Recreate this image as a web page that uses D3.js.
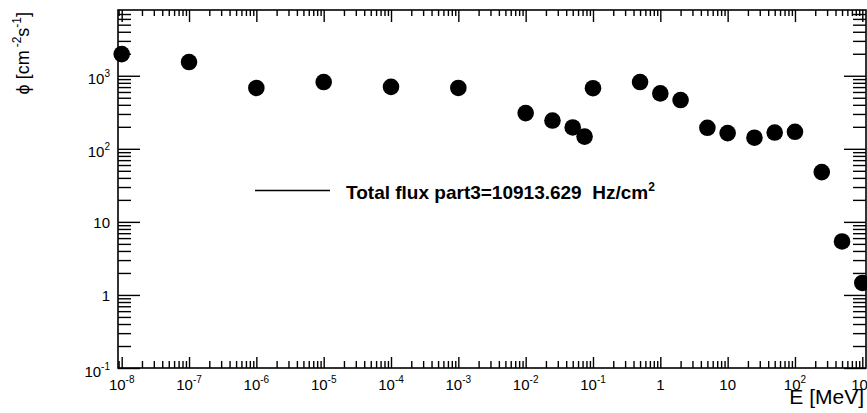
<!DOCTYPE html>
<html>
<head>
<meta charset="utf-8">
<script src="https://cdn.jsdelivr.net/npm/d3@7"></script>
<style>
  html, body { margin: 0; padding: 0; background: #fff; overflow: hidden; }
  svg { display: block; }
  text { font-family: "Liberation Sans", Arial, Helvetica, sans-serif; fill: #000; }
</style>
</head>
<body>
<svg id="chart" width="867" height="413"></svg>
<script>
// Neutron flux spectrum, part 3
const energies = [1e-8, 1e-7, 1e-6, 1e-5, 1e-4, 1e-3, 1e-2, 0.025, 0.05, 0.075, 0.1,
                  0.5, 1, 2, 5, 10, 25, 50, 100, 250, 500, 1000];
const flux = [1980, 1540, 680, 820, 705, 680, 308, 244, 196, 147, 675,
              820, 573, 465, 194, 164, 142, 167, 171, 48, 5.4, 1.46];
const xTickExponents = [-8, -7, -6, -5, -4, -3, -2, -1, 0, 1, 2, 3];
const yTickExponents = [-1, 0, 1, 2, 3];
const xTitle = "E [MeV]";
const legendLabel = "Total flux part3=10913.629  Hz/cm";
const legendUnitPower = "2";

const svg = d3.select("#chart");
const frame = { left: 118, right: 866, top: 10, bottom: 368 };

const x = d3.scaleLog()
  .domain([Math.pow(10, -8.055), Math.pow(10, 3.055)])
  .range([frame.left, frame.right]);
const y = d3.scaleLog()
  .domain([0.1, Math.pow(10, 3.9)])
  .range([frame.bottom, frame.top]);

// major (decade) and minor (2..9) tick values inside a log domain
function logTicks(scale) {
  const [lo, hi] = scale.domain();
  const major = [], minor = [];
  for (let e = Math.floor(Math.log10(lo)) - 1; e <= Math.ceil(Math.log10(hi)); e++) {
    for (let k = 1; k <= 9; k++) {
      const v = k * Math.pow(10, e);
      if (v < lo * 0.9999 || v > hi * 1.0001) continue;
      (k === 1 ? major : minor).push(v);
    }
  }
  return { major, minor };
}

const xt = logTicks(x), yt = logTicks(y);

function drawAxis(axisFn, scale, values, size, transform) {
  const g = svg.append("g")
    .attr("transform", transform)
    .call(axisFn(scale).tickValues(values).tickSize(size).tickSizeOuter(0).tickFormat(""));
  g.select(".domain").remove();
  g.selectAll(".tick line").attr("stroke", "#000").attr("stroke-width", 1.4);
}

// bottom and top axes, ticks pointing into the frame
drawAxis(d3.axisTop, x, xt.major, 11, `translate(0,${frame.bottom})`);
drawAxis(d3.axisTop, x, xt.minor, 7, `translate(0,${frame.bottom})`);
drawAxis(d3.axisBottom, x, xt.major, 12, `translate(0,${frame.top})`);
drawAxis(d3.axisBottom, x, xt.minor, 6, `translate(0,${frame.top})`);
// left and right axes
drawAxis(d3.axisRight, y, yt.major, 22, `translate(${frame.left},0)`);
drawAxis(d3.axisRight, y, yt.minor, 13, `translate(${frame.left},0)`);
drawAxis(d3.axisLeft, y, yt.major, 22, `translate(${frame.right},0)`);
drawAxis(d3.axisLeft, y, yt.minor, 13, `translate(${frame.right},0)`);

// frame
svg.append("rect")
  .attr("x", frame.left).attr("y", frame.top)
  .attr("width", frame.right - frame.left).attr("height", frame.bottom - frame.top)
  .attr("fill", "none").attr("stroke", "#000").attr("stroke-width", 1.6);

// power-of-ten label: "1", "10" or "10" with superscript exponent
function powerLabel(sel, e) {
  if (e === 0) { sel.text("1"); return; }
  if (e === 1) { sel.text("10"); return; }
  sel.append("tspan").text("10");
  sel.append("tspan").attr("dy", -7).attr("font-size", 10).text(String(e));
}

// x tick labels
xTickExponents.forEach(e => {
  const t = svg.append("text")
    .attr("x", x(Math.pow(10, e)))
    .attr("y", 389.5)
    .attr("text-anchor", "middle")
    .attr("font-size", 15);
  powerLabel(t, e);
});

// y tick labels
yTickExponents.forEach(e => {
  const hasSup = e !== 0 && e !== 1;
  const t = svg.append("text")
    .attr("x", 110)
    .attr("y", y(Math.pow(10, e)) + (hasSup ? 8.5 : 6))
    .attr("text-anchor", "end")
    .attr("font-size", 15);
  powerLabel(t, e);
});

// axis titles
svg.append("text")
  .attr("x", 864).attr("y", 404)
  .attr("text-anchor", "end")
  .attr("font-size", 21)
  .text(xTitle);

const yTitle = svg.append("text")
  .attr("transform", "translate(29,12) rotate(-90)")
  .attr("text-anchor", "end")
  .attr("font-size", 18);
yTitle.append("tspan").text("\u03D5 [cm");
yTitle.append("tspan").attr("dy", -8).attr("font-size", 12).attr("dx", 3).text("-2");
yTitle.append("tspan").attr("dy", 8).text("s");
yTitle.append("tspan").attr("dy", -8).attr("font-size", 12).text("-1");
yTitle.append("tspan").attr("dy", 8).text("]");

// data points
svg.append("g")
  .selectAll("circle")
  .data(energies.map((e, i) => ({ e, f: flux[i] })))
  .join("circle")
  .attr("cx", d => x(d.e))
  .attr("cy", d => y(d.f))
  .attr("r", 8.3)
  .attr("fill", "#000");

// legend
svg.append("line")
  .attr("x1", 255).attr("x2", 330)
  .attr("y1", 190.5).attr("y2", 190.5)
  .attr("stroke", "#000").attr("stroke-width", 1.5);
const leg = svg.append("text")
  .attr("x", 346).attr("y", 199)
  .attr("font-size", 19)
  .attr("font-weight", "bold")
  .style("white-space", "pre");
leg.append("tspan").text(legendLabel);
leg.append("tspan").attr("dy", -8).attr("font-size", 12).text(legendUnitPower);
</script>
</body>
</html>
